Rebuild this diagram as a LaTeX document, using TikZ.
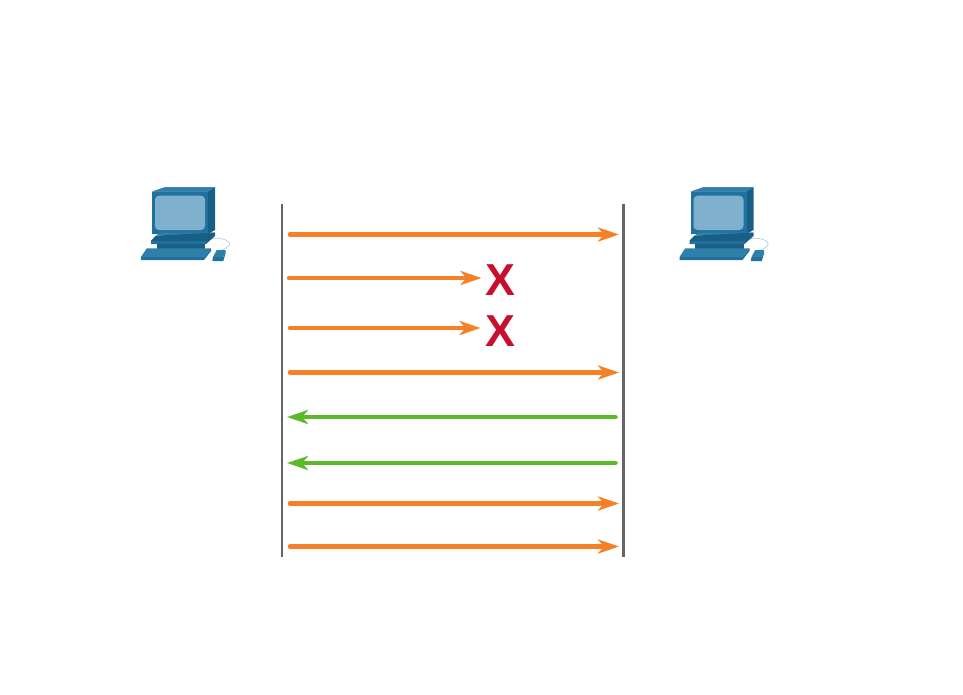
\documentclass[tikz,border=0pt]{standalone}
\usepackage{fontspec}
\setmainfont{Liberation Sans}
\usetikzlibrary{arrows.meta,positioning}
\definecolor{segorange}{HTML}{F58025}
\definecolor{ackgreen}{HTML}{5DB82A}
\definecolor{lostred}{HTML}{C8102E}
\definecolor{wiregray}{HTML}{666666}
\definecolor{pcfront}{HTML}{21719F}
\definecolor{pcside}{HTML}{175F87}
\definecolor{pctop}{HTML}{2E80AB}
\definecolor{pcscreen}{HTML}{7FB1CE}
\definecolor{pcdark}{HTML}{1A5F85}
\tikzset{
	lifeline/.style={draw=wiregray,line width=0.058cm},
	segarrow/.style={draw=segorange,line width=0.09cm,line cap=round,-{Stealth[length=0.42cm,width=0.28cm,inset=0.12cm]}},
	ackarrow/.style={draw=ackgreen,line width=0.09cm,line cap=round,-{Stealth[length=0.42cm,width=0.28cm,inset=0.12cm]}},
	lostmark/.style={text=lostred,font=\bfseries\fontsize{25.5}{25.5}\selectfont,inner sep=0pt},
	pics/pcicon/.style={code={
		% cable
		\draw[pcscreen!70,line width=0.012cm] (68,51) .. controls (80,48) and (96,54) .. (85,60) .. controls (82,62) and (80,62) .. (79,63);
		% monitor
		\fill[pcside] (11,3.7) -- (24,-0.7) -- (74,-0.7) -- (74,42) -- (67,46) -- (67,3.7) -- cycle;
		\fill[pctop] (11,3.7) -- (24,-0.7) -- (74,-0.7) -- (67,3.7) -- cycle;
		\fill[pcfront] (11,3.7) rectangle (67,46);
		\fill[pcscreen,rounded corners=0.08cm] (14,7.7) rectangle (64,42);
		% stand
		\fill[pctop] (15,47.7) -- (19,44.5) -- (74,44.5) -- (70,47.7) -- cycle;
		\fill[pcside] (10,52.7) -- (15,47.7) -- (74,44.5) -- (74,48) -- (65,56) -- (10,56) -- cycle;
		\fill[pcfront] (10,52.7) rectangle (65,56);
		\fill[pcdark] (15.7,56) rectangle (64,60.5);
		% keyboard
		\fill[pctop] (5.7,60.3) -- (70,60.3) -- (63,69) -- (0,69) -- cycle;
		\fill[pcfront] (0,69) -- (63,69) -- (70,60.3) -- (70,63) -- (63,72) -- (0,72) -- cycle;
		% mouse
		\fill[pctop] (75.7,62) -- (84.7,62) -- (82.3,69) -- (72,69) -- cycle;
		\fill[pcfront] (72,69) -- (82.3,69) -- (84.7,62) -- (84.7,65) -- (82.3,73) -- (71.3,73) -- cycle;
	}}
}
\begin{document}
\begin{tikzpicture}[x=0.02cm,y=-0.02cm]
	\useasboundingbox (0,0) rectangle (963,694);
	% hosts
	\pic (hostA) at (141,188) {pcicon};
	\pic (hostB) at (679.5,188) {pcicon};
	% lifelines
	\coordinate (topA) at (282,204);
	\coordinate (botA) at (282,557);
	\coordinate (topB) at (623.5,204);
	\coordinate (botB) at (623.5,557);
	\draw[lifeline] (topA) -- (botA);
	\draw[lifeline] (topB) -- (botB);
	% segments that arrive
	\foreach \i/\y in {1/234.5,2/372.5,3/503.5,4/546.5} {
		\coordinate (sendA\i) at (290,\y);
		\coordinate (recvB\i) at (619,\y);
		\draw[segarrow] (sendA\i) -- (recvB\i);
	}
	% acknowledgements
	\foreach \i/\y in {1/417,2/463} {
		\coordinate (sendB\i) at (615.5,\y);
		\coordinate (recvA\i) at (287,\y);
		\draw[ackarrow] (sendB\i) -- (recvA\i);
	}
	% lost segments
	\node[lostmark] (lostA) at (500.5,280) {X};
	\node[lostmark] (lostB) at (500.5,331) {X};
	\coordinate (sendL1) at (289,278);
	\coordinate (dropL1) at (481.5,278);
	\coordinate (sendL2) at (290,328);
	\coordinate (dropL2) at (480.5,328);
	\draw[segarrow] (sendL1) -- (dropL1);
	\draw[segarrow] (sendL2) -- (dropL2);
\end{tikzpicture}
\end{document}
